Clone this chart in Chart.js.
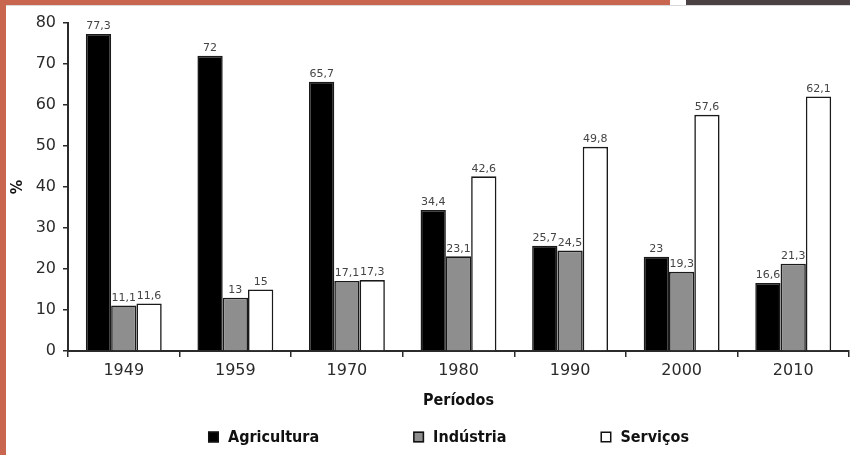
<!DOCTYPE html>
<html lang="pt">
<head>
<meta charset="utf-8">
<title>Distribuição por setor de atividade</title>
<script src="https://cdn.jsdelivr.net/npm/chart.js@4.4.1/dist/chart.umd.min.js"></script>
<style>
  html, body { margin: 0; padding: 0; background: #ffffff; }
  #frame { position: relative; width: 850px; height: 455px; overflow: hidden; background: #ffffff; }
  #chart { position: absolute; left: 0; top: 0; }
  .strip { position: absolute; }
  #stripLeft { left: 0; top: 0; width: 6px; height: 455px; background: #c8664f; }
  #stripTop { left: 0; top: 0; width: 670px; height: 5px; background: #c8664f; }
  #stripDark { left: 686px; top: 0; width: 164px; height: 5px; background: #4b4243; }
  #stripLine { left: 6px; top: 5px; width: 844px; height: 1px; background: #d9d9d9; }
</style>
</head>
<body>
<div id="frame">
  <canvas id="chart" width="850" height="455"></canvas>
  <div class="strip" id="stripTop"></div>
  <div class="strip" id="stripDark"></div>
  <div class="strip" id="stripLine"></div>
  <div class="strip" id="stripLeft"></div>
</div>
<script>
// Periods on the horizontal axis
const periods = ['1949', '1959', '1970', '1980', '1990', '2000', '2010'];

// Share of each sector (%)
const agricultura = [77.3, 72, 65.7, 34.4, 25.7, 23, 16.6];
const industria   = [11.1, 13, 17.1, 23.1, 24.5, 19.3, 21.3];
const servicos    = [11.6, 15, 17.3, 42.6, 49.8, 57.6, 62.1];

// Series names
const seriesNames = ['Agricultura', 'Indústria', 'Serviços'];

// Vertical axis ticks
const yTicks = [0, 10, 20, 30, 40, 50, 60, 70, 80];

const INK = '#2b2b2b';
const BASE_FONT = '"DejaVu Sans", "Liberation Sans", sans-serif';
const BOLD_FONT = '"DejaVu Sans Condensed", "DejaVu Sans", sans-serif';

function fmt(v) {
  return String(v).replace('.', ',');
}

// Value labels above every bar
const valueLabels = {
  id: 'valueLabels',
  afterDatasetsDraw(chart) {
    const ctx = chart.ctx;
    ctx.save();
    ctx.font = '11px ' + BASE_FONT;
    ctx.fillStyle = '#444444';
    ctx.textAlign = 'center';
    ctx.textBaseline = 'bottom';
    chart.data.datasets.forEach((ds, i) => {
      const meta = chart.getDatasetMeta(i);
      meta.data.forEach((bar, j) => {
        ctx.fillText(fmt(ds.data[j]), bar.x, bar.y - 2);
      });
    });
    ctx.restore();
  }
};

// Legend row under the axis title
const bottomLegend = {
  id: 'bottomLegend',
  afterDraw(chart) {
    const ctx = chart.ctx;
    const box = 11, textGap = 9, itemGap = 94;
    const y = 437;
    ctx.save();
    ctx.font = 'bold 16px ' + BOLD_FONT;
    const items = chart.data.datasets.map(ds => ({
      label: ds.label,
      fill: ds.backgroundColor,
      w: box + textGap + ctx.measureText(ds.label).width
    }));
    const total = items.reduce((s, it) => s + it.w, 0) + itemGap * (items.length - 1);
    let x = (chart.chartArea.left + chart.chartArea.right) / 2 - 10 - total / 2;
    items.forEach(it => {
      ctx.fillStyle = it.fill;
      ctx.fillRect(x, y - box / 2, box, box);
      ctx.strokeStyle = '#111111';
      ctx.lineWidth = 1.5;
      ctx.strokeRect(x + 0.75, y - box / 2 + 0.75, box - 1.5, box - 1.5);
      ctx.fillStyle = '#111111';
      ctx.textAlign = 'left';
      ctx.textBaseline = 'middle';
      ctx.fillText(it.label, x + box + textGap, y + 1);
      x += it.w + itemGap;
    });
    ctx.restore();
  }
};

const barStyle = { borderColor: '#1a1a1a', borderWidth: 1.6, borderSkipped: 'bottom' };

new Chart(document.getElementById('chart'), {
  type: 'bar',
  data: {
    labels: periods,
    datasets: [
      Object.assign({ label: seriesNames[0], data: agricultura, backgroundColor: '#000000' }, barStyle),
      Object.assign({ label: seriesNames[1], data: industria, backgroundColor: '#8e8e8e' }, barStyle),
      Object.assign({ label: seriesNames[2], data: servicos, backgroundColor: '#ffffff' }, barStyle)
    ]
  },
  options: {
    responsive: false,
    devicePixelRatio: 1,
    animation: false,
    layout: { padding: { left: 0, right: 1, top: 23, bottom: 40 } },
    datasets: { bar: { categoryPercentage: 0.68, barPercentage: 1 } },
    plugins: {
      legend: { display: false },
      tooltip: { enabled: false }
    },
    scales: {
      x: {
        grid: { drawOnChartArea: false, drawTicks: true, tickLength: 6, color: INK, lineWidth: 1.5, offset: true },
        border: { display: true, color: INK, width: 2 },
        ticks: { color: INK, font: { family: BASE_FONT, size: 16 }, padding: 4 },
        title: {
          display: true, text: 'Períodos', color: '#111111',
          font: { family: BOLD_FONT, size: 16, weight: 'bold' },
          padding: { top: 5, bottom: 5 }
        },
        afterFit(scale) { scale.height = 64; }
      },
      y: {
        min: 0, max: 80,
        afterBuildTicks(scale) { scale.ticks = yTicks.map(v => ({ value: v })); },
        grid: { drawOnChartArea: false, drawTicks: true, tickLength: 5, color: INK, lineWidth: 1.5 },
        border: { display: true, color: INK, width: 2 },
        ticks: { color: INK, font: { family: BASE_FONT, size: 16 }, padding: 7 },
        title: {
          display: true, text: '%', color: '#111111',
          font: { family: BOLD_FONT, size: 16, weight: 'bold' },
          padding: { top: 8, bottom: 8 }
        },
        afterFit(scale) { scale.width = 68; }
      }
    }
  },
  plugins: [valueLabels, bottomLegend]
});
</script>
</body>
</html>
